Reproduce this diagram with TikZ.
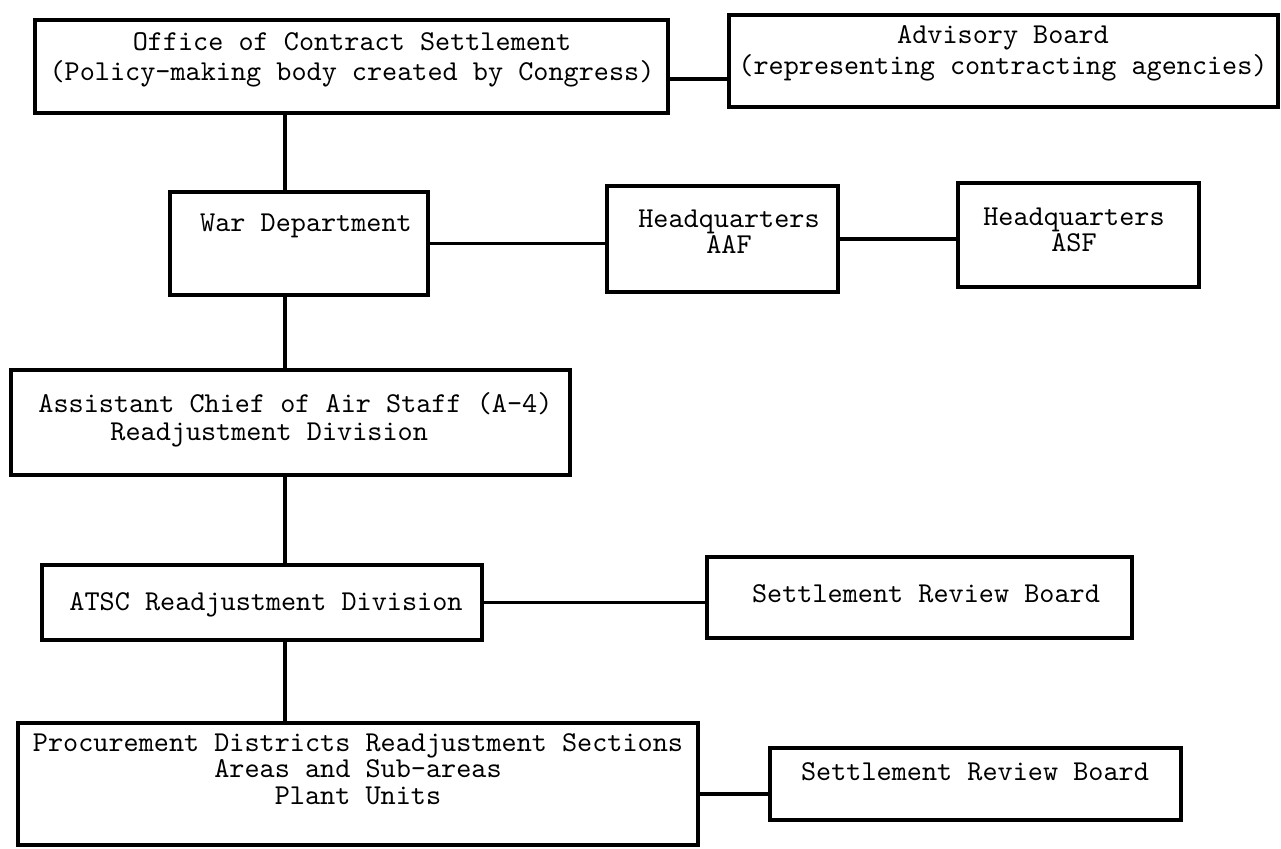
\documentclass[tikz,border=0pt]{standalone}
\usepackage{fontspec}
\newfontfamily\tw{lmmono10-regular.otf}
\usetikzlibrary{fit}
\begin{document}
\begin{tikzpicture}[x=0.5pt,y=-0.5pt,
  orgbox/.style={draw, line width=2pt, inner sep=0pt},
  conn/.style={line width=1.7pt},
  txt/.style={inner sep=0pt, align=center, font=\tw\fontsize{14.4}{#1}\selectfont},
  txt/.default=13]
\useasboundingbox (0,0) rectangle (1281,848);
% boxes
\node[orgbox, fit={(35,20) (668,113)}] (b1) {};
\node[orgbox, fit={(729,15) (1278,107)}] (b2) {};
\node[orgbox, fit={(170,192) (428,295)}] (b3) {};
\node[orgbox, fit={(607,186) (838,292)}] (b4) {};
\node[orgbox, fit={(958,183) (1199,287)}] (b5) {};
\node[orgbox, fit={(11,370) (570,475)}] (b6) {};
\node[orgbox, fit={(42,565) (482,640)}] (b7) {};
\node[orgbox, fit={(707,557) (1132,638)}] (b8) {};
\node[orgbox, fit={(18,723) (698,845)}] (b9) {};
\node[orgbox, fit={(770,748) (1181,820)}] (b10) {};
% texts
\node[txt=15] (t1) at (352,60) {Office of Contract Settlement\\(Policy-making body created by Congress)};
\node[txt=15.5] (t2) at (1003,53) {Advisory Board\\(representing contracting agencies)};
\node[txt] (t3) at (306,226) {War Department};
\node[txt=13] (t4) at (729,232) {Headquarters\\AAF};
\node[txt=13] (t5) at (1074,230) {Headquarters\\ASF};
\node[txt=14, align=left, anchor=west] (t6) at (38,420) {Assistant Chief of Air Staff (A-4)\\\hspace*{36pt}Readjustment Division};
\node[txt] (t7) at (266,605) {ATSC Readjustment Division};
\node[txt] (t8) at (926,594) {Settlement Review Board};
\node[txt=13.4] (t9) at (358,769) {Procurement Districts Readjustment Sections\\Areas and Sub-areas\\Plant Units};
\node[txt] (t10) at (975,772) {Settlement Review Board};
% connector guides
\coordinate (vx) at (285,0);
\coordinate (h12) at (0,79);
\coordinate (h910) at (0,794);
% connectors
\draw[conn] (b1.south -| vx) -- (b3.north -| vx);
\draw[conn] (b3.south -| vx) -- (b6.north -| vx);
\draw[conn] (b6.south -| vx) -- (b7.north -| vx);
\draw[conn] (b7.south -| vx) -- (b9.north -| vx);
\draw[conn] (b1.east |- h12) -- (b2.west |- h12);
\draw[conn] (b3.east) -- (b4.west |- b3.east);
\draw[conn] (b4.east) -- (b5.west |- b4.east);
\draw[conn] (b7.east) -- (b8.west |- b7.east);
\draw[conn] (b9.east |- h910) -- (b10.west |- h910);
\end{tikzpicture}
\end{document}
